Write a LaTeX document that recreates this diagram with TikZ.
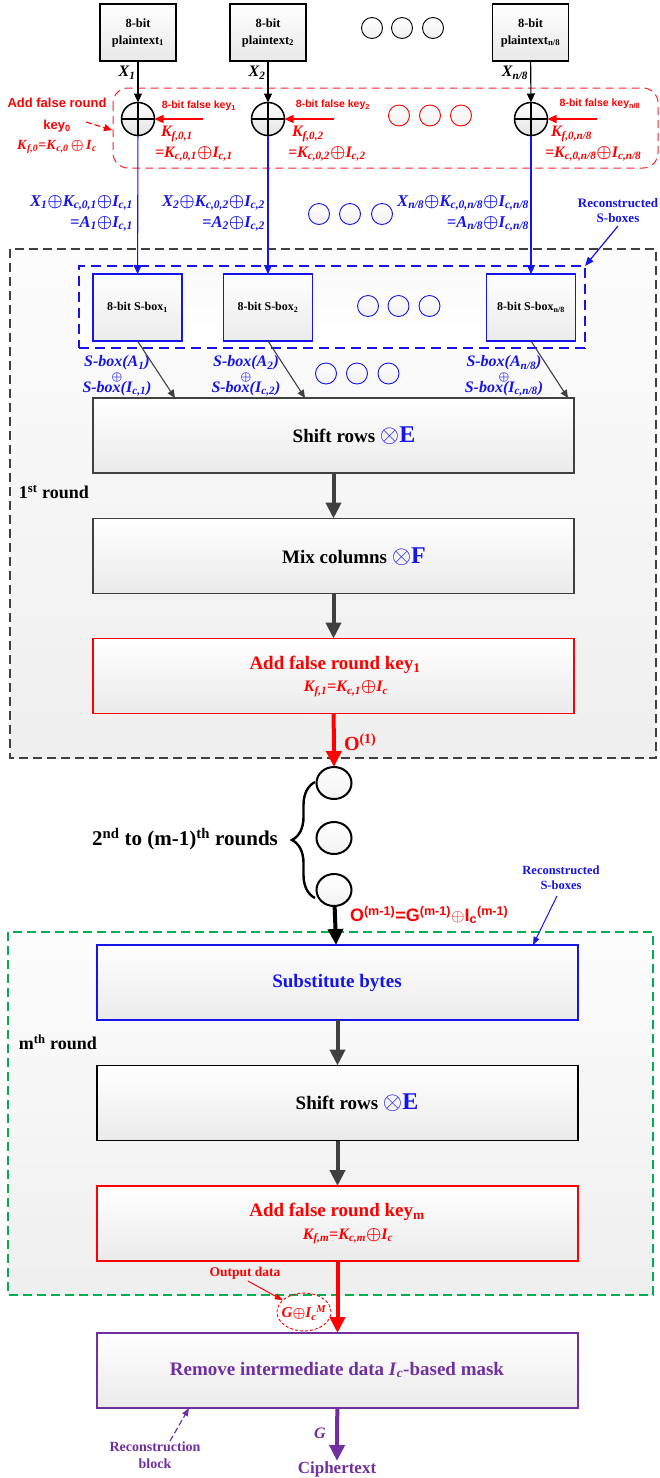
\documentclass[tikz,border=0pt]{standalone}
\usepackage{amsmath}
\usepackage{fontspec}
\setmainfont{Liberation Serif}
\setsansfont{Liberation Sans}
\usetikzlibrary{arrows.meta,decorations.pathreplacing,shapes.geometric}
\definecolor{myred}{RGB}{255,0,0}
\definecolor{myblue}{RGB}{20,20,235}
\definecolor{mygreen}{RGB}{0,176,80}
\definecolor{mypurple}{RGB}{112,48,160}
\definecolor{dgray}{RGB}{64,64,64}
\newcommand{\fsz}[2]{\fontsize{#1}{#2}\selectfont}
\newcommand{\bis}[2]{\textbf{\textit{#1}}\textsubscript{\textbf{\textit{#2}}}}
\newcommand{\bxo}{\ensuremath{\boldsymbol{\oplus}}}
\begin{document}
\begin{tikzpicture}[x=1pt,y=-1pt,
  every node/.style={inner sep=0pt,outer sep=0pt},
  ptbox/.style={draw=black,line width=1.6pt,top color=white,bottom color=gray!18,minimum width=76pt,minimum height=57pt,align=center,font=\fsz{12.5}{17}\bfseries},
  xorc/.style={circle,draw=black,line width=1.5pt,top color=white,bottom color=gray!22,minimum size=33pt},
  dotk/.style={circle,draw=black,line width=0.9pt,top color=white,bottom color=gray!12,minimum size=21pt},
  dotr/.style={dotk,draw=myred},
  dotb/.style={dotk,draw=myblue},
  bigdot/.style={ellipse,draw=black,line width=2pt,top color=white,bottom color=gray!10,minimum width=35pt,minimum height=32pt},
  sbbox/.style={draw=myblue,line width=1.3pt,top color=white,bottom color=gray!15,minimum width=89pt,minimum height=67pt,font=\fsz{12}{14}\bfseries},
  bigbox/.style={line width=1.6pt,top color=white,bottom color=gray!16,minimum width=481pt,minimum height=75pt},
  thinarr/.style={-{Triangle[length=9pt,width=8pt]},line width=1.1pt},
  thickarr/.style={-{Triangle[length=16pt,width=15pt]},line width=4pt},
  redk/.style={anchor=west,text=myred,font=\fsz{16}{16}\bfseries\itshape},
  bluek/.style={anchor=east,text=myblue,font=\fsz{16.5}{16.5}\bfseries\itshape},
  bluesb/.style={text=myblue,font=\fsz{16}{16}\bfseries\itshape},
  keylab/.style={text=myred,font=\sffamily\bfseries\fsz{10.5}{12}},
  boxtxt/.style={font=\fsz{19}{19}\bfseries},
  keyf/.style={text=myred,font=\fsz{16}{16}\bfseries\itshape}
]
\useasboundingbox (0,0) rectangle (659,1478);
\fill[white] (0,0) rectangle (659,1478);

% ---------- containers ----------
\draw[dgray,line width=1.3pt,dash pattern=on 9pt off 5pt,top color=gray!2,bottom color=gray!13] (10,249) rectangle (656,758);
\draw[mygreen,line width=1.3pt,dash pattern=on 9pt off 5pt,top color=gray!2,bottom color=gray!13] (8,932) rectangle (653,1295);
\draw[myred!85,line width=1pt,dash pattern=on 8pt off 5pt,rounded corners=15pt] (113,88) rectangle (658,168);
\node[draw=myblue,line width=1.6pt,dash pattern=on 10pt off 6pt,top color=gray!4,bottom color=white,minimum width=506pt,minimum height=82pt] (sbx) at (332,307) {};

% ---------- plaintext ----------
\node[ptbox] (p1) at (138,32.5) {8-bit\\plaintext\textsubscript{1}};
\node[ptbox] (p2) at (268,32.5) {8-bit\\plaintext\textsubscript{2}};
\node[ptbox] (p3) at (530.5,32.5) {8-bit\\plaintext\textsubscript{n/8}};
\node[dotk] (d1) at (372,28) {};
\node[dotk] (d2) at (402,28) {};
\node[dotk] (d3) at (433,28) {};

% ---------- xor ----------
\node[xorc] (x1) at (138,119) {};
\node[xorc] (x2) at (268,119) {};
\node[xorc] (x3) at (531,119) {};
\foreach \n in {x1,x2,x3}{\draw[line width=1.3pt] (\n.north) -- (\n.south) (\n.west) -- (\n.east);}
\draw[thinarr] (p1) -- (x1);
\draw[thinarr] (p2) -- (x2);
\draw[thinarr] (p3) -- (x3);
\node[font=\fsz{16}{16}\bfseries\itshape] (lx1) at (127,73) {\bis{X}{1}};
\node[font=\fsz{16}{16}\bfseries\itshape] (lx2) at (257,73) {\bis{X}{2}};
\node[font=\fsz{16}{16}\bfseries\itshape] (lx3) at (515,73) {\bis{X}{n/8}};

% false keys
\coordinate (k1s) at (203,119);
\coordinate (k2s) at (334,119);
\coordinate (k3s) at (597,119);
\draw[thinarr,myred] (k1s) -- (x1);
\draw[thinarr,myred] (k2s) -- (x2);
\draw[thinarr,myred] (k3s) -- (x3);
\node[keylab] (kl1) at (199,106) {8-bit false key\textsubscript{1}};
\node[keylab] (kl2) at (333,105) {8-bit false key\textsubscript{2}};
\node[keylab] (kl3) at (600,104) {8-bit false key\textsubscript{n/8}};
\node[redk] (kf1) at (161,134) {\bis{K}{f,0,1}};
\node[redk] (kc1) at (155,154) {=\bis{K}{c,0,1}\bxo\bis{I}{c,1}};
\node[redk] (kf2) at (292,134) {\bis{K}{f,0,2}};
\node[redk] (kc2) at (288,154) {=\bis{K}{c,0,2}\bxo\bis{I}{c,2}};
\node[redk] (kf3) at (551,134) {\bis{K}{f,0,n/8}};
\node[redk] (kc3) at (545,154) {=\bis{K}{c,0,n/8}\bxo\bis{I}{c,n/8}};
\node[dotr] (r1) at (399,115.5) {};
\node[dotr] (r2) at (430,115.5) {};
\node[dotr] (r3) at (461,115.5) {};
\node[text=myred,font=\sffamily\bfseries\fsz{13}{15}] (afk1) at (57,103) {Add false round};
\node[text=myred,font=\sffamily\bfseries\fsz{13}{15}] (afk2) at (57,126) {key\textsubscript{0}};
\node[text=myred,font=\fsz{14}{14}\bfseries] (afk3) at (57,147) {\bis{K}{f,0}=\bis{K}{c,0}\,\bxo\,\bis{I}{c}};
\coordinate (afa) at (86,122);
\coordinate (afb) at (112,130);
\draw[myred,line width=1.1pt,dash pattern=on 6pt off 3pt,-{Triangle[length=8pt,width=7pt]}] (afa) -- (afb);

% ---------- blue region ----------
\node[sbbox] (sb1) at (137.5,307.5) {8-bit S-box\textsubscript{1}};
\node[sbbox] (sb2) at (268,307.5) {8-bit S-box\textsubscript{2}};
\node[sbbox] (sb3) at (531,307.5) {8-bit S-box\textsubscript{n/8}};
\draw[thinarr,myblue] (x1) -- (sb1);
\draw[thinarr,myblue] (x2) -- (sb2);
\draw[thinarr,myblue] (x3) -- (sb3);
\node[bluek] (bx1a) at (133,203) {\bis{X}{1}\bxo\bis{K}{c,0,1}\bxo\bis{I}{c,1}};
\node[bluek] (bx1b) at (133,224) {=\bis{A}{1}\bxo\bis{I}{c,1}};
\node[bluek] (bx2a) at (265,203) {\bis{X}{2}\bxo\bis{K}{c,0,2}\bxo\bis{I}{c,2}};
\node[bluek] (bx2b) at (265,224) {=\bis{A}{2}\bxo\bis{I}{c,2}};
\node[bluek] (bx3a) at (529,203) {\bis{X}{n/8}\bxo\bis{K}{c,0,n/8}\bxo\bis{I}{c,n/8}};
\node[bluek] (bx3b) at (529,224) {=\bis{A}{n/8}\bxo\bis{I}{c,n/8}};
\node[dotb] (b1) at (319,214) {};
\node[dotb] (b2) at (350,214) {};
\node[dotb] (b3) at (382,214) {};
\node[dotb] (b4) at (368,306) {};
\node[dotb] (b5) at (398.5,306) {};
\node[dotb] (b6) at (429.5,306) {};
\node[dotb] (b7) at (326,373.5) {};
\node[dotb] (b8) at (357,373.5) {};
\node[dotb] (b9) at (388.5,373.5) {};
\node[text=myblue,font=\bfseries\fsz{13}{15},align=center] (rs1) at (618,211) {Reconstructed\\S-boxes};
\coordinate (rsa) at (618,226);
\draw[myblue,line width=1.2pt,-{Triangle[length=9pt,width=7pt]}] (rsa) -- (sbx.north east);

\node[bluesb] (sa1) at (117,363) {S-box(\bis{A}{1})};
\node[text=myblue,font=\fsz{12}{12}] (so1) at (117,377) {\bxo};
\node[bluesb] (sc1) at (117,389) {S-box(\bis{I}{c,1})};
\node[bluesb] (sa2) at (246,363) {S-box(\bis{A}{2})};
\node[text=myblue,font=\fsz{12}{12}] (so2) at (246,377) {\bxo};
\node[bluesb] (sc2) at (246,389) {S-box(\bis{I}{c,2})};
\node[bluesb] (sa3) at (504,363) {S-box(\bis{A}{n/8})};
\node[text=myblue,font=\fsz{12}{12}] (so3) at (504,377) {\bxo};
\node[bluesb] (sc3) at (504,389) {S-box(\bis{I}{c,n/8})};

% ---------- first round boxes ----------
\node[bigbox,draw=dgray] (sr1) at (333.5,435.5) {};
\node[boxtxt] (sr1t) at (354,436) {Shift rows {\color{myblue}\fsz{24}{24}$\otimes$E}};
\node[bigbox,draw=dgray] (mc) at (333.5,556) {};
\node[boxtxt] (mct) at (354,557) {Mix columns {\color{myblue}\fsz{24}{24}$\otimes$F}};
\node[bigbox,draw=myred] (k1b) at (333.5,676) {};
\node[boxtxt,text=myred] (k1t) at (335,665) {Add false round key\textsubscript{1}};
\node[keyf] (k1f) at (346,689) {\bis{K}{f,1}=\bis{K}{c,1}\bxo\bis{I}{c}};
\draw[dgray,line width=1.1pt,-{Triangle[length=8pt,width=7pt]}] (sb1.south) -- ([xshift=82pt]sr1.north west);
\draw[dgray,line width=1.1pt,-{Triangle[length=8pt,width=7pt]}] (sb2.south) -- ([xshift=212pt]sr1.north west);
\draw[dgray,line width=1.1pt,-{Triangle[length=8pt,width=7pt]}] (sb3.south) -- ([xshift=475pt]sr1.north west);
\draw[thickarr,dgray] (sr1) -- (mc);
\draw[thickarr,dgray] (mc) -- (k1b);
\node[anchor=west,font=\fsz{18}{18}\bfseries] (r1l) at (19,492) {1\textsuperscript{st} round};

% ---------- middle ----------
\node[bigdot] (c1) at (334,783) {};
\node[bigdot] (c2) at (334,838) {};
\node[bigdot] (c3) at (334,890) {};
\draw[thickarr,myred] (k1b) -- (c1);
\node[anchor=west,text=myred,font=\fsz{20}{20}\bfseries] (o1) at (344,742) {O\textsuperscript{(1)}};
\coordinate (brb) at (315,898);
\coordinate (brt) at (315,782);
\draw[line width=2.4pt,decorate,decoration={brace,amplitude=23pt}] (brb) -- (brt);
\node[font=\fsz{21}{21}\bfseries] (rnd) at (185,839) {2\textsuperscript{nd} to (m-1)\textsuperscript{th} rounds};
\node[anchor=west,text=myred,font=\sffamily\bfseries\fsz{18}{18}] (om) at (350,915) {O\textsuperscript{(m-1)}=G\textsuperscript{(m-1)}$\oplus$I\textsubscript{c}\textsuperscript{(m-1)}};

% ---------- m-th round ----------
\node[bigbox,draw=myblue] (sub) at (337.5,982.5) {};
\node[boxtxt,text=myblue] (subt) at (337,983) {Substitute bytes};
\node[bigbox,draw=black] (sr2) at (337.5,1103) {};
\node[boxtxt] (sr2t) at (357,1103) {Shift rows {\color{myblue}\fsz{24}{24}$\otimes$E}};
\node[bigbox,draw=myred] (kmb) at (337.5,1223.5) {};
\node[boxtxt,text=myred] (kmt) at (337,1212) {Add false round key\textsubscript{m}};
\node[keyf] (kmf) at (348,1236) {\bis{K}{f,m}=\bis{K}{c,m}\bxo\bis{I}{c}};
\draw[thickarr,black] (c3) -- (sub);
\draw[thickarr,dgray] (sub) -- (sr2);
\draw[thickarr,dgray] (sr2) -- (kmb);
\node[anchor=west,font=\fsz{18}{18}\bfseries] (rml) at (19,1042) {m\textsuperscript{th} round};
\node[text=myblue,font=\bfseries\fsz{12.5}{15},align=center] (rs2) at (561,878) {Reconstructed\\S-boxes};
\coordinate (rsb) at (557,896);
\draw[myblue,line width=1pt,-{Triangle[length=8pt,width=6pt]}] (rsb) -- ([xshift=195.5pt]sub.north);

% ---------- output / reconstruction ----------
\node[bigbox,draw=mypurple] (rem) at (337.5,1370.5) {};
\node[boxtxt,text=mypurple,font=\fsz{19}{19}\bfseries] (remt) at (337,1370) {Remove intermediate data \textit{I}\textsubscript{\textit{c}}-based mask};
\draw[thickarr,myred] (kmb) -- (rem);
\node[text=myred,font=\bfseries\fsz{13.5}{15}] (outd) at (245,1273) {Output data};
\node[ellipse,draw=myred,line width=0.9pt,dash pattern=on 3pt off 2pt,minimum width=54pt,minimum height=38pt] (oel) at (304,1312) {};
\node[text=myred,font=\fsz{15}{15}\bfseries\itshape] (oelt) at (304,1313) {\textbf{\textit{G}}\bxo\bis{I}{c}\textsuperscript{\textbf{\textit{M}}}};
\coordinate (oa) at (248,1281);
\draw[myred,line width=1pt,-{Triangle[length=8pt,width=6pt]}] (oa) -- (oel);
\coordinate (ct) at (337,1461);
\draw[thickarr,mypurple] (rem) -- (ct);
\node[text=mypurple,font=\fsz{16}{16}\bfseries\itshape] (gl) at (320,1433) {G};
\node[text=mypurple,font=\fsz{17}{17}\bfseries] (cph) at (337,1469) {Ciphertext};
\node[text=mypurple,font=\bfseries\fsz{14}{17},align=center] (rcb) at (155,1455) {Reconstruction\\block};
\coordinate (rca) at (170,1441);
\draw[mypurple,line width=1.2pt,dash pattern=on 6pt off 3pt,-{Triangle[length=8pt,width=6pt]}] (rca) -- ([xshift=92pt]rem.south west);
\end{tikzpicture}
\end{document}
